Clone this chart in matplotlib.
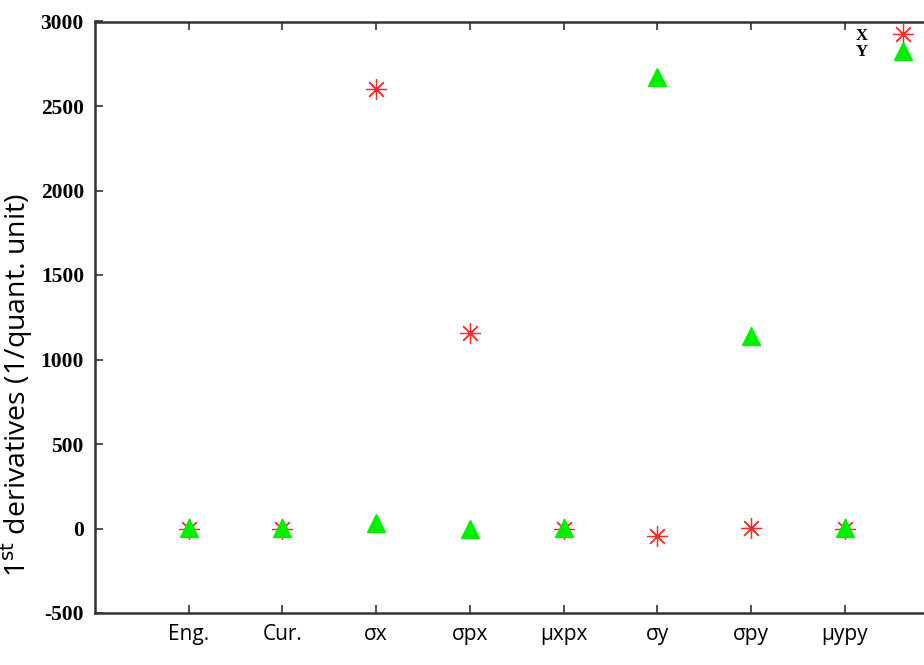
import matplotlib.pyplot as plt

plt.rcParams['axes.unicode_minus'] = False

# parameters along the x axis
params = ['Eng.', 'Cur.', 'σx', 'σpx', 'μxpx', 'σy', 'σpy', 'μypy']
pos = list(range(1, len(params) + 1))

# first derivatives per plane
deriv_x = [0, 0, 2600, 1155, 0, -45, 3, 0]
deriv_y = [5, 5, 30, -3, 5, 2670, 1140, 5]

fig = plt.figure(figsize=(9.24, 6.65), dpi=100)
ax = fig.add_axes([95 / 924, 52 / 665, 829 / 924, 591.5 / 665])

ax.plot(pos, deriv_x, linestyle='none', marker=(8, 2, 0), markersize=15,
        markeredgewidth=0.9, color='#ff2a2a', label='X')
ax.plot(pos, deriv_y, linestyle='none', marker='^', markersize=13,
        color='#00ee00', markeredgecolor='#00ee00', label='Y')

ax.set_xlim(0, 829 / 93.7)
ax.set_ylim(-500, 3000)
ax.set_yticks(range(-500, 3001, 500))
ax.set_xticks(pos)
ax.set_xticklabels(params, fontfamily='Open Sans', fontsize=15)
for lbl in ax.get_yticklabels():
    lbl.set_fontfamily('Liberation Serif')
    lbl.set_fontweight('bold')
    lbl.set_fontsize(15.5)

ax.spines['right'].set_visible(False)
for s in ['left', 'bottom', 'top']:
    ax.spines[s].set_linewidth(1.8)
    ax.spines[s].set_color('#333333')
ax.tick_params(axis='both', direction='in', length=6, width=1.2, color='#333333')
ax.tick_params(axis='x', top=True, pad=8)
ax.tick_params(axis='y', pad=8)

ax.set_ylabel('1$^{\\rm st}$ derivatives (1/quant. unit)', fontfamily='Open Sans',
              fontsize=20.5)
ax.yaxis.set_label_coords(-60 / 829, (613 - 385) / 591.5)

leg = ax.legend(loc='upper right', bbox_to_anchor=(918 / 924, 1 - 21 / 665),
                bbox_transform=fig.transFigure, frameon=False, markerfirst=False,
                handlelength=1.0, handletextpad=1.6, labelspacing=0.05,
                borderaxespad=0, prop={'family': 'Liberation Serif', 'weight': 'bold', 'size': 12})

fig.savefig('out.png', dpi=100)
